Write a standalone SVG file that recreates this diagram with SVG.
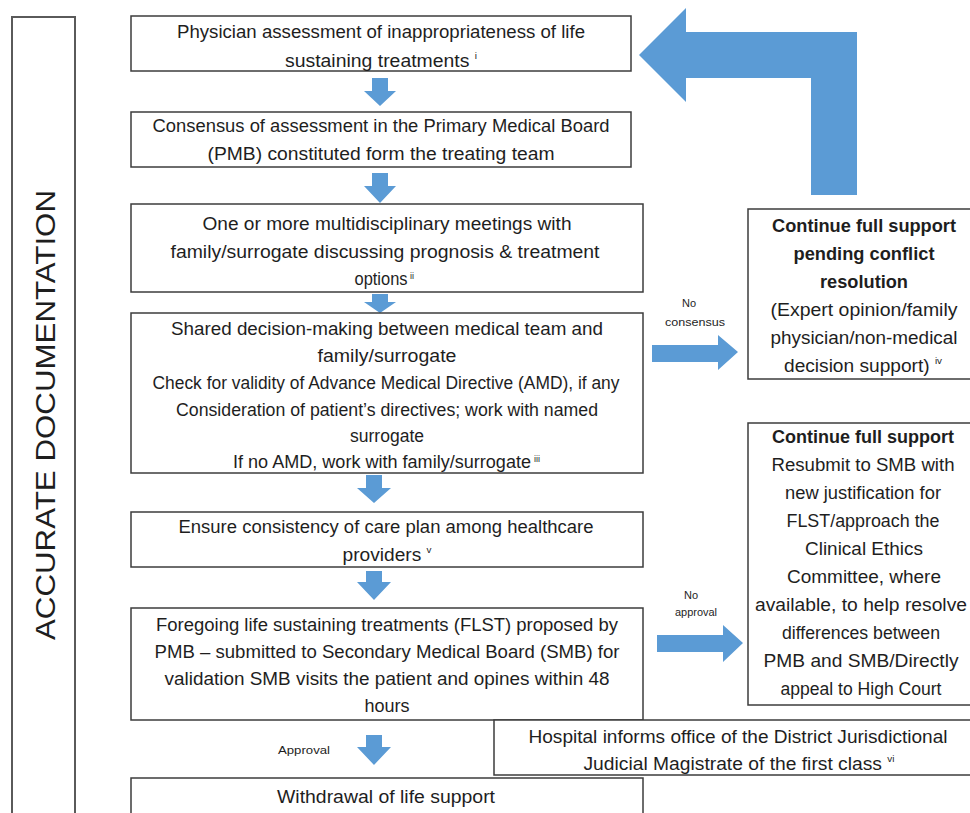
<svg xmlns="http://www.w3.org/2000/svg" width="970" height="813" viewBox="0 0 970 813">
<style>
.box{fill:#fff;stroke:#3c3c3c;stroke-width:1.5}
.side{fill:#fff;stroke:#5a5a5a;stroke-width:2}
.arr{fill:#5b9bd5}
text{font-family:"Liberation Sans",Arial,sans-serif;fill:#1e1e1e}
.t{font-size:17.5px;text-anchor:middle}
.b{font-weight:bold}
.s{font-size:11px;text-anchor:middle}
.sup{font-size:9px}
</style>
<rect width="970" height="813" fill="#fff"/>

<g id="side">
<rect class="side" x="12" y="17" width="63" height="820"/>
<text transform="translate(55,415) rotate(-90)" x="0" y="0" font-size="28" text-anchor="middle" textLength="450" lengthAdjust="spacingAndGlyphs">ACCURATE DOCUMENTATION</text>
</g>

<g id="connectors">
<polygon class="arr" points="372,78 388,78 388,91 396,91 380,106 364,91 372,91"/>
<polygon class="arr" points="372,173 388,173 388,186 396,186 380,203 364,186 372,186"/>
<polygon class="arr" points="372,294 388,294 388,302 396,302 380,313 364,302 372,302"/>
<polygon class="arr" points="366,475 382,475 382,488 391,488 374,503 357,488 366,488"/>
<polygon class="arr" points="366,571 382,571 382,582 391,582 374,600 357,582 366,582"/>
<polygon class="arr" points="366,735 382,735 382,747 391,747 374,765 357,747 366,747"/>
<polygon class="arr" points="652,345 718,345 718,335 738,352 718,370 718,362 652,362"/>
<polygon class="arr" points="657,635 723,635 723,625 743,643 723,662 723,652 657,652"/>
<polygon class="arr" points="639,55 686,8 686,32 857,32 857,195 811,195 811,78 686,78 686,102"/>
<text class="s" x="689" y="307">No</text>
<text class="s" x="695" y="326" textLength="60" lengthAdjust="spacingAndGlyphs">consensus</text>
<text class="s" x="691" y="599">No</text>
<text class="s" x="696" y="616" textLength="42" lengthAdjust="spacingAndGlyphs">approval</text>
<text class="s" x="304" y="754" textLength="52" lengthAdjust="spacingAndGlyphs">Approval</text>
</g>

<g id="n1">
<rect class="box" x="131" y="16" width="500" height="55"/>
<text class="t" x="381" y="38" textLength="408" lengthAdjust="spacingAndGlyphs">Physician assessment of inappropriateness of life</text>
<text class="t" x="381" y="67" textLength="192" lengthAdjust="spacingAndGlyphs">sustaining treatments <tspan class="sup" dy="-8">i</tspan></text>
</g>

<g id="n2">
<rect class="box" x="131" y="112" width="500" height="55"/>
<text class="t" x="381" y="132" textLength="457" lengthAdjust="spacingAndGlyphs">Consensus of assessment in the Primary Medical Board</text>
<text class="t" x="381" y="160" textLength="347" lengthAdjust="spacingAndGlyphs">(PMB) constituted form the treating team</text>
</g>

<g id="n3">
<rect class="box" x="131" y="204" width="512" height="88"/>
<text class="t" x="387" y="230" textLength="369" lengthAdjust="spacingAndGlyphs">One or more  multidisciplinary meetings with</text>
<text class="t" x="385" y="258" textLength="429" lengthAdjust="spacingAndGlyphs">family/surrogate discussing prognosis &amp; treatment</text>
<text class="t" x="381" y="285" textLength="53" lengthAdjust="spacingAndGlyphs">options</text>
<text class="sup" x="410" y="279">ii</text>
</g>

<g id="n4">
<rect class="box" x="131" y="313" width="512" height="160"/>
<text class="t" x="387" y="335" textLength="432" lengthAdjust="spacingAndGlyphs">Shared decision-making between medical team and</text>
<text class="t" x="387" y="362" textLength="139" lengthAdjust="spacingAndGlyphs">family/surrogate</text>
<text class="t" x="386" y="389" textLength="467" lengthAdjust="spacingAndGlyphs">Check for validity of Advance Medical Directive (AMD), if any</text>
<text class="t" x="387" y="416" textLength="422" lengthAdjust="spacingAndGlyphs">Consideration of patient’s directives; work with named</text>
<text class="t" x="387" y="442" textLength="74" lengthAdjust="spacingAndGlyphs">surrogate</text>
<text class="t" x="382" y="468" textLength="298" lengthAdjust="spacingAndGlyphs">If no AMD, work with family/surrogate</text>
<text class="sup" x="534" y="462" fill="#999">iii</text>
</g>

<g id="n5">
<rect class="box" x="131" y="512" width="512" height="55"/>
<text class="t" x="386" y="533" textLength="415" lengthAdjust="spacingAndGlyphs">Ensure consistency of care plan among healthcare</text>
<text class="t" x="387" y="561" textLength="89" lengthAdjust="spacingAndGlyphs">providers <tspan class="sup" dy="-8">v</tspan></text>
</g>

<g id="n6">
<rect class="box" x="131" y="608" width="512" height="112"/>
<text class="t" x="387" y="631" textLength="462" lengthAdjust="spacingAndGlyphs">Foregoing life sustaining treatments (FLST) proposed  by</text>
<text class="t" x="387" y="658" textLength="465" lengthAdjust="spacingAndGlyphs">PMB – submitted to Secondary Medical Board (SMB) for</text>
<text class="t" x="387" y="685" textLength="445" lengthAdjust="spacingAndGlyphs">validation SMB visits the patient and opines within 48</text>
<text class="t" x="387" y="712" textLength="45" lengthAdjust="spacingAndGlyphs">hours</text>
</g>

<g id="n7">
<rect class="box" x="131" y="778" width="512" height="60"/>
<text class="t" x="386" y="803" textLength="218" lengthAdjust="spacingAndGlyphs">Withdrawal of life support</text>
</g>

<g id="n8">
<rect class="box" x="494" y="720" width="480" height="55"/>
<text class="t" x="738" y="743" textLength="419" lengthAdjust="spacingAndGlyphs">Hospital informs office of the District Jurisdictional</text>
<text class="t" x="739" y="770" textLength="311" lengthAdjust="spacingAndGlyphs">Judicial Magistrate of the first class <tspan class="sup" dy="-8">vi</tspan></text>
</g>

<g id="r1">
<rect class="box" x="748" y="209" width="226" height="170"/>
<text class="t b" x="864" y="232" textLength="184" lengthAdjust="spacingAndGlyphs">Continue full support</text>
<text class="t b" x="864" y="260" textLength="141" lengthAdjust="spacingAndGlyphs">pending conflict</text>
<text class="t b" x="864" y="288" textLength="88" lengthAdjust="spacingAndGlyphs">resolution</text>
<text class="t" x="864" y="316" textLength="187" lengthAdjust="spacingAndGlyphs">(Expert opinion/family</text>
<text class="t" x="864" y="344" textLength="187" lengthAdjust="spacingAndGlyphs">physician/non-medical</text>
<text class="t" x="863" y="372" textLength="158" lengthAdjust="spacingAndGlyphs">decision support) <tspan class="sup" dy="-8">iv</tspan></text>
</g>

<g id="r2">
<rect class="box" x="748" y="423" width="226" height="282"/>
<text class="t b" x="863" y="443" textLength="182" lengthAdjust="spacingAndGlyphs">Continue full support</text>
<text class="t" x="863" y="471" textLength="183" lengthAdjust="spacingAndGlyphs">Resubmit to SMB with</text>
<text class="t" x="863" y="499" textLength="156" lengthAdjust="spacingAndGlyphs">new justification for</text>
<text class="t" x="863" y="527" textLength="153" lengthAdjust="spacingAndGlyphs">FLST/approach the</text>
<text class="t" x="864" y="555" textLength="118" lengthAdjust="spacingAndGlyphs">Clinical Ethics</text>
<text class="t" x="864" y="583" textLength="154" lengthAdjust="spacingAndGlyphs">Committee, where</text>
<text class="t" x="861" y="611" textLength="212" lengthAdjust="spacingAndGlyphs">available, to help resolve</text>
<text class="t" x="861" y="639" textLength="158" lengthAdjust="spacingAndGlyphs">differences between</text>
<text class="t" x="861" y="667" textLength="195" lengthAdjust="spacingAndGlyphs">PMB and SMB/Directly</text>
<text class="t" x="861" y="695" textLength="161" lengthAdjust="spacingAndGlyphs">appeal to High Court</text>
</g>
</svg>
